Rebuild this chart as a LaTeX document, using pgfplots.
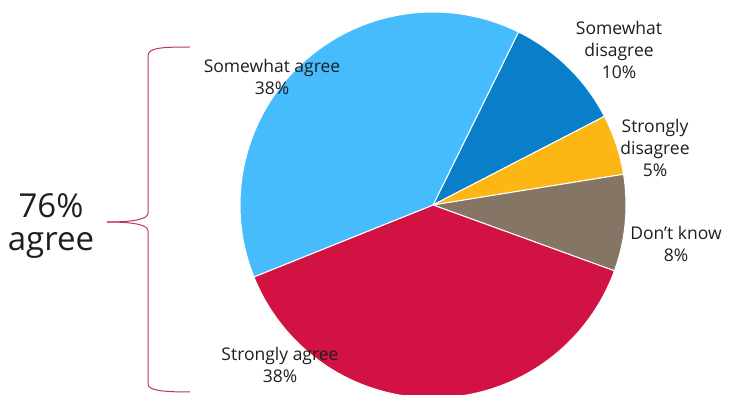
\documentclass[border=0pt]{standalone}
\usepackage{pgfplots}
\pgfplotsset{compat=1.18}
\usepackage{pgfplotstable}
\usepackage{fontspec}
\setmainfont{Open Sans}
\definecolor{cSA}{HTML}{47BCFD}
\definecolor{cSD}{HTML}{0A7FC9}
\definecolor{cStD}{HTML}{FDB714}
\definecolor{cDK}{HTML}{857565}
\definecolor{cStA}{HTML}{D11242}
\definecolor{cBr}{HTML}{B8375F}
\definecolor{txt}{HTML}{1E1E1E}
\pgfplotstableread{
cat pct
SomewhatDisagree 10
StronglyDisagree 5
DontKnow 8
StronglyAgree 38
SomewhatAgree 38
}\piedata
\begin{document}
\begin{tikzpicture}
\useasboundingbox (0,0) rectangle (734pt,394pt);
\clip (0,0) rectangle (734pt,394pt);
\pgfplotstablegetelem{0}{pct}\of\piedata \edef\pA{\pgfplotsretval}
\pgfplotstablegetelem{1}{pct}\of\piedata \edef\pB{\pgfplotsretval}
\pgfplotstablegetelem{2}{pct}\of\piedata \edef\pC{\pgfplotsretval}
\pgfplotstablegetelem{3}{pct}\of\piedata \edef\pD{\pgfplotsretval}
\pgfplotstablegetelem{4}{pct}\of\piedata \edef\pE{\pgfplotsretval}
\pgfmathsetmacro\tot{\pA+\pB+\pC+\pD+\pE}
\pgfmathsetmacro\aA{63.7}
\pgfmathsetmacro\aB{\aA-\pA*360/\tot}
\pgfmathsetmacro\aC{\aB-\pB*360/\tot}
\pgfmathsetmacro\aD{\aC-\pC*360/\tot}
\pgfmathsetmacro\aE{\aD-\pD*360/\tot}
\pgfmathsetmacro\aF{\aE-\pE*360/\tot}
\begin{axis}[x=193pt,y=193pt,hide axis,xmin=-1,xmax=1,ymin=-1,ymax=1,
  at={(433pt,189pt)},anchor=origin,clip=false]
\addplot[fill=cSD,draw=white,line width=1pt,domain=\aB:\aA,samples=60,variable=\t] ({cos(\t)},{sin(\t)}) -- (axis cs:0,0) -- cycle;
\addplot[fill=cStD,draw=white,line width=1pt,domain=\aC:\aB,samples=40,variable=\t] ({cos(\t)},{sin(\t)}) -- (axis cs:0,0) -- cycle;
\addplot[fill=cDK,draw=white,line width=1pt,domain=\aD:\aC,samples=40,variable=\t] ({cos(\t)},{sin(\t)}) -- (axis cs:0,0) -- cycle;
\addplot[fill=cStA,draw=white,line width=1pt,domain=\aE:\aD,samples=120,variable=\t] ({cos(\t)},{sin(\t)}) -- (axis cs:0,0) -- cycle;
\addplot[fill=cSA,draw=white,line width=1pt,domain=\aF:\aE,samples=120,variable=\t] ({cos(\t)},{sin(\t)}) -- (axis cs:0,0) -- cycle;
\end{axis}
\begin{scope}[every node/.style={text=txt,align=center,font=\fontsize{17.5}{22}\selectfont}]
\node at (272pt,317pt) {Somewhat agree\\38\%};
\node at (280pt,29pt) {Strongly agree\\38\%};
\node at (619pt,344pt) {Somewhat\\disagree\\10\%};
\node at (655pt,246pt) {Strongly\\disagree\\5\%};
\node at (676pt,150pt) {Don’t know\\8\%};
\end{scope}
\node[text=txt,align=center,font=\fontsize{33}{33}\selectfont] at (51pt,168pt) {76\%\\agree};
\draw[cBr,line width=1pt] (190pt,347pt) .. controls (160pt,347pt) and (148pt,346pt) .. (148pt,338pt) -- (148pt,181pt) .. controls (148pt,175pt) and (135pt,172pt) .. (107pt,172pt);
\draw[cBr,line width=1pt] (107pt,172pt) .. controls (135pt,172pt) and (148pt,169pt) .. (148pt,163pt) -- (148pt,10pt) .. controls (148pt,4pt) and (160pt,2pt) .. (190pt,2pt);
\end{tikzpicture}
\end{document}
